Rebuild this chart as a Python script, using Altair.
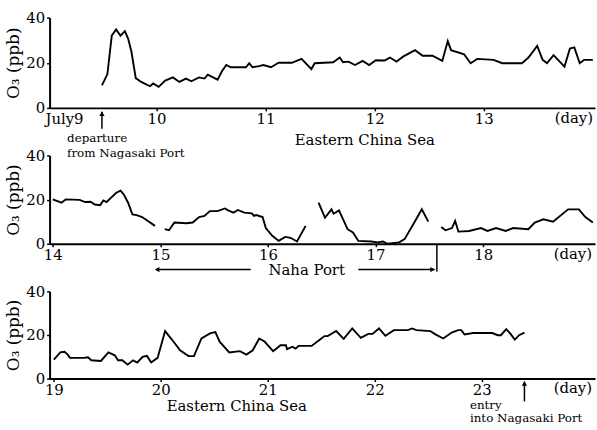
import altair as alt
import pandas as pd

FONT = "DejaVu Serif"

# ---------------- data (day of July, O3 ppb) ----------------
# Panel 1: July 9 - 14
p1_day = [9.50, 9.55, 9.59, 9.63, 9.67, 9.71, 9.74, 9.77, 9.81, 9.86,
          9.94, 9.97, 10.02, 10.08, 10.15, 10.21, 10.27, 10.32, 10.39, 10.44,
          10.47, 10.56, 10.60, 10.64, 10.68, 10.82, 10.85, 10.88, 10.94, 10.98,
          11.05, 11.12, 11.24, 11.33, 11.42, 11.45, 11.62, 11.68, 11.71, 11.76,
          11.82, 11.89, 11.95, 12.01, 12.09, 12.14, 12.20, 12.26, 12.37, 12.44,
          12.53, 12.62, 12.67, 12.70, 12.82, 12.88, 12.94, 13.09, 13.17, 13.35,
          13.41, 13.49, 13.54, 13.58, 13.64, 13.74, 13.79, 13.83, 13.88, 13.92,
          14.00]
p1_o3 = [10.0, 15, 32, 34.8, 32, 34, 30.7, 25, 13.2, 11.5,
         9.6, 10.8, 9.3, 12.1, 13.5, 11.5, 13, 11.8, 13.5, 13,
         14.7, 12.5, 16.2, 19, 18, 18, 19.8, 18, 18.5, 19,
         18, 20, 20, 21.7, 17.2, 19.8, 20.2, 22.3, 20.2, 20.5,
         19, 20.8, 19, 21.1, 21, 22.3, 20.5, 22.7, 25.6, 23.1,
         23.1, 20.8, 29.6, 25.6, 23.7, 19.8, 21.7, 21.3, 19.8, 19.8,
         22.3, 27.5, 21.3, 19.8, 23.4, 18.3, 26.3, 26.8, 19.8, 21.3,
         21.3]

# Panel 2: July 14 - 19 (four separate segments)
p2a_day = [14.00, 14.08, 14.12, 14.25, 14.30, 14.35, 14.39, 14.44, 14.47, 14.50,
           14.54, 14.59, 14.63, 14.66, 14.70, 14.74, 14.78, 14.83, 14.95]
p2a_o3 = [20.1, 18.6, 20.1, 19.9, 18.9, 19, 17.8, 17.5, 19.6, 18.9,
          20.8, 23.1, 24.1, 22.3, 18.6, 13.3, 13, 12.1, 8.1]
p2b_day = [15.04, 15.08, 15.13, 15.24, 15.30, 15.36, 15.41, 15.46, 15.53, 15.60,
           15.63, 15.68, 15.72, 15.78, 15.85, 15.87, 15.89, 15.95, 15.98, 16.04,
           16.10, 16.16, 16.21, 16.27, 16.35]
p2b_o3 = [6.6, 6.1, 9.6, 9.3, 9.6, 12.1, 12.6, 14.8, 14.8, 16,
          15.1, 14.1, 15.3, 14.1, 13.8, 12.6, 13, 12.1, 7.1, 3.6,
          1.3, 3.1, 2.7, 1.0, 8.1]
p2c_day = [16.47, 16.53, 16.59, 16.61, 16.66, 16.74, 16.79, 16.84, 16.96, 17.02,
           17.07, 17.11, 17.22, 17.27, 17.36, 17.43, 17.49]
p2c_o3 = [18.6, 11.8, 15.6, 13.6, 15.1, 6.6, 5.1, 1.3, 1.0, 0.6,
          1.0, 0.0, 0.6, 2.1, 9.6, 15.6, 10.0]
p2d_day = [17.61, 17.65, 17.71, 17.74, 17.77, 17.87, 17.98, 18.04, 18.12, 18.21,
           18.28, 18.42, 18.48, 18.56, 18.65, 18.79, 18.89, 18.95, 19.02]
p2d_o3 = [7.6, 6.1, 7.1, 10.3, 5.5, 5.8, 7.1, 5.8, 7.1, 5.8,
          7.1, 6.6, 9.6, 11.1, 10.0, 15.6, 15.6, 12.1, 9.6]

# Panel 3: July 19 - 24
p3_day = [19.00, 19.06, 19.10, 19.13, 19.15, 19.28, 19.32, 19.35, 19.44, 19.51,
          19.57, 19.60, 19.64, 19.69, 19.74, 19.78, 19.83, 19.87, 19.91, 19.97,
          20.04, 20.12, 20.18, 20.26, 20.31, 20.38, 20.46, 20.51, 20.55, 20.64,
          20.74, 20.80, 20.86, 20.92, 20.97, 21.05, 21.12, 21.17, 21.18, 21.23,
          21.26, 21.29, 21.41, 21.48, 21.53, 21.56, 21.64, 21.71, 21.79, 21.87,
          21.94, 21.98, 22.04, 22.10, 22.18, 22.31, 22.35, 22.39, 22.52, 22.56,
          22.64, 22.72, 22.78, 22.81, 22.84, 22.92, 23.10, 23.15, 23.18, 23.23,
          23.27, 23.31, 23.35, 23.40]
p3_o3 = [8.7, 12, 12.3, 11, 9.5, 9.5, 9.8, 8.4, 8.1, 12,
         10.7, 8.4, 8.4, 6.4, 8.4, 7.4, 10, 10.4, 7.4, 9.5,
         21.8, 16.9, 13, 10.3, 10.3, 18.4, 20.7, 21.3, 16.9, 12,
         12.6, 11, 13, 18.4, 17, 12.6, 15.3, 15.3, 13.5, 14.6,
         13.8, 15, 15, 17.6, 19.5, 19.5, 21.8, 18.2, 23, 18.7,
         20.5, 20.5, 23, 19.6, 22.2, 22.2, 23, 22.2, 21.8, 20.5,
         18.4, 21.1, 22.2, 22.2, 20.2, 20.9, 20.9, 19.9, 19.9, 22.7,
         20.5, 17.9, 19.9, 21.1]

p1_ticks = [10, 11, 12, 13]
p2_ticks = [14, 15, 16, 17, 18]
p3_ticks = [19, 20, 21, 22, 23]
y_ticks = [0, 20, 40]

# events
departure_day = 9.50
entry_day = 23.40
naha_start, naha_end = 14.94, 17.57


def seg_df(days, vals, seg):
    return pd.DataFrame({"day": days, "o3": vals, "seg": seg})


def xaxis(ticks):
    return alt.Axis(values=ticks, title=None, grid=False, format="d",
                    domainColor="black", domainWidth=2,
                    tickColor="black", tickSize=3, tickWidth=1.5,
                    labelFont=FONT, labelFontSize=15, labelColor="black",
                    labelPadding=1, labelFlush=False, labelOverlap=False)


def xenc(field, domain, ticks):
    return alt.X(field, scale=alt.Scale(domain=domain, nice=False, zero=False),
                 axis=xaxis(ticks))


def line_layer(df, domain, ticks):
    return alt.Chart(df).mark_line(color="black", strokeWidth=1.9).encode(
        x=xenc("day:Q", domain, ticks),
        y=alt.Y("o3:Q", scale=alt.Scale(domain=[0, 40], nice=False),
                axis=alt.Axis(values=y_ticks, title="O₃ (ppb)", grid=False,
                              domainColor="black", domainWidth=2,
                              tickColor="black", tickSize=3, tickWidth=1.5,
                              labelFont=FONT, labelFontSize=15, labelColor="black",
                              labelPadding=2, labelFlush=False,
                              titleFont=FONT, titleFontSize=17,
                              titleFontWeight="normal", titleColor="black",
                              titlePadding=3)),
        detail="seg:N",
    )


def label(text, x, ypx, domain, ticks, size=15, align="left", dx=0):
    return alt.Chart(pd.DataFrame({"x": [x], "t": [text]})).mark_text(
        font=FONT, fontSize=size, align=align, baseline="middle",
        color="black", dx=dx
    ).encode(x=xenc("x:Q", domain, ticks), y=alt.value(ypx), text="t:N")


def vrule(x, y1, y2, domain, ticks):
    return alt.Chart(pd.DataFrame({"x": [x]})).mark_rule(
        color="black", strokeWidth=1.5
    ).encode(x=xenc("x:Q", domain, ticks), y=alt.value(y1), y2=alt.value(y2))


def hrule(x1, x2, ypx, domain, ticks):
    return alt.Chart(pd.DataFrame({"x": [x1], "x2": [x2]})).mark_rule(
        color="black", strokeWidth=1.5
    ).encode(x=xenc("x:Q", domain, ticks), x2="x2:Q", y=alt.value(ypx))


def head(x, ypx, shape, domain, ticks):
    return alt.Chart(pd.DataFrame({"x": [x]})).mark_point(
        shape=shape, filled=True, size=28, color="black", opacity=1
    ).encode(x=xenc("x:Q", domain, ticks), y=alt.value(ypx))


# ---------------- panel 1 ----------------
d1, t1 = [9.02, 14.02], p1_ticks
h1 = 91
panel1 = alt.layer(
    line_layer(seg_df(p1_day, p1_o3, "a"), d1, t1),
    label("July9", 9.0, h1 + 11, d1, t1, align="left", dx=-2),
    label("(day)", 14.02, h1 + 10, d1, t1, align="right", dx=-2),
    vrule(departure_day, h1 + 4, h1 + 21, d1, t1),
    head(departure_day, h1 + 6, "triangle-up", d1, t1),
    label("departure", 9.18, h1 + 30, d1, t1, size=12),
    label("from Nagasaki Port", 9.18, h1 + 46, d1, t1, size=12),
    label("Eastern China Sea", 11.91, h1 + 32, d1, t1, align="center"),
).properties(width=550, height=h1)

# ---------------- panel 2 ----------------
d2, t2 = [13.97, 19.04], p2_ticks
h2 = 89
df2 = pd.concat([seg_df(p2a_day, p2a_o3, "a"), seg_df(p2b_day, p2b_o3, "b"),
                 seg_df(p2c_day, p2c_o3, "c"), seg_df(p2d_day, p2d_o3, "d")])
panel2 = alt.layer(
    line_layer(df2, d2, t2),
    label("(day)", 19.04, h2 + 10, d2, t2, align="right", dx=-3),
    hrule(naha_start + 0.02, 15.84, h2 + 26, d2, t2),
    head(naha_start + 0.03, h2 + 26, "triangle-left", d2, t2),
    label("Naha Port", 16.36, h2 + 27, d2, t2, align="center"),
    hrule(16.84, naha_end - 0.02, h2 + 26, d2, t2),
    head(naha_end - 0.04, h2 + 26, "triangle-right", d2, t2),
    vrule(naha_end, h2, h2 + 28, d2, t2),
).properties(width=550, height=h2)

# ---------------- panel 3 ----------------
d3, t3 = [18.96, 24.06], p3_ticks
h3 = 88
panel3 = alt.layer(
    line_layer(seg_df(p3_day, p3_o3, "a"), d3, t3),
    label("(day)", 24.06, h3 + 10, d3, t3, align="right", dx=-3),
    label("Eastern China Sea", 20.71, h3 + 28, d3, t3, align="center"),
    vrule(entry_day, h3 + 3, h3 + 23, d3, t3),
    head(entry_day, h3 + 5, "triangle-up", d3, t3),
    label("entry", 22.89, h3 + 27, d3, t3, size=12),
    label("into Nagasaki Port", 22.89, h3 + 40, d3, t3, size=12),
).properties(width=550, height=h3)

chart = alt.vconcat(panel1, panel2, panel3, spacing=48, bounds="flush").properties(
    padding={"left": 4, "top": 9, "right": 0, "bottom": 0},
    background="white",
).configure_view(stroke=None)

chart.save("out.html", embed_options={"renderer": "svg", "actions": False})
